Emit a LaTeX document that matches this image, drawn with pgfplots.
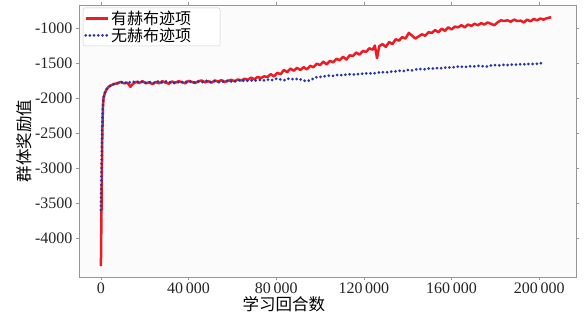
\documentclass[border=0pt]{standalone}
\usepackage{pgfplots}
\pgfplotsset{compat=1.18}
\usepackage{fontspec}
\setmainfont{Liberation Serif}
\newfontfamily\cjk{Noto Sans CJK SC}
\definecolor{myred}{RGB}{236,28,36}
\definecolor{myblue}{RGB}{40,52,160}
\definecolor{spine}{RGB}{150,150,150}
\begin{document}
\begin{tikzpicture}
\path[use as bounding box, fill=white] (-79pt,-43pt) rectangle (507pt,277pt);
\begin{axis}[
  scale only axis,
  width=497pt, height=272pt,
  at={(0pt,0pt)}, anchor=south west,
  xmin=-10000, xmax=216800,
  ymin=-4557, ymax=-671,
  scaled x ticks=false, scaled y ticks=false,
  axis background/.style={fill=black!1.5},
  axis line style={spine, line width=0.8pt},
  tick style={spine, line width=0.6pt},
  tick align=outside, major tick length=3pt,
  xtick={0,40000,80000,120000,160000,200000},
  xticklabels={0,40\,000,80\,000,120\,000,160\,000,200\,000},
  ytick={-4000,-3500,-3000,-2500,-2000,-1500,-1000},
  yticklabels={-4000,-3500,-3000,-2500,-2000,-1500,-1000},
  ticklabel style={font=\fontsize{16}{18}\selectfont, text=black!85},
  xticklabel style={yshift=1pt},
  xlabel={\cjk 学习回合数},
  ylabel={\cjk 群体奖励值},
  label style={font=\fontsize{16.5}{18}\selectfont},
  xlabel style={at={(axis description cs:0.412,0)}, anchor=north, yshift=-16pt},
  ylabel style={at={(axis description cs:0,0.5)}, anchor=south, xshift=0pt, yshift=44pt},
  legend style={at={(axis description cs:0.008,0.99)}, anchor=north west,
    draw=black!20, fill=white, rounded corners=2pt,
    font=\cjk\fontsize{16}{17}\selectfont, inner sep=1pt, row sep=-2pt},
  legend cell align=left,
  legend image code/.code={\draw[#1] (0pt,0pt) -- (22pt,0pt);},
]
\addplot[myred, line width=2.5pt, line join=round] coordinates {
(0,-4400) (300,-3500) (600,-2600) (900,-2150) (1200,-2000) (1800,-1930)
(2500,-1880) (3500,-1840) (4500,-1820) (6000,-1800) (7500,-1790) (9000,-1770)
(10500,-1790) (12000,-1780) (13500,-1840) (14500,-1800) (16000,-1770) (17500,-1785)
(19000,-1760) (20500,-1790) (22000,-1775) (23500,-1800) (25000,-1770) (26500,-1790)
(28000,-1760) (29500,-1780) (31000,-1795) (32500,-1765) (34000,-1780) (35500,-1760)
(37000,-1775) (38500,-1790) (40000,-1755) (41500,-1770) (43000,-1785) (44500,-1760)
(46000,-1750) (47500,-1775) (49000,-1760) (50500,-1780) (52000,-1750) (53500,-1765)
(55000,-1745) (56500,-1770) (58000,-1755) (59500,-1740) (61000,-1760) (62500,-1735)
(64000,-1750) (65500,-1725) (67000,-1740) (68500,-1710) (70000,-1730) (71500,-1700)
(73000,-1715) (74500,-1690) (76000,-1700) (77500,-1660) (79000,-1690) (80500,-1640)
(82000,-1660) (83500,-1600) (85000,-1630) (86500,-1580) (88000,-1610) (89500,-1570)
(91000,-1600) (92500,-1560) (94000,-1590) (95500,-1540) (97000,-1560) (98500,-1510)
(100000,-1530) (101500,-1480) (103000,-1520) (104500,-1470) (106000,-1490) (107500,-1440)
(109000,-1460) (110500,-1410) (112000,-1450) (113500,-1390) (115000,-1400) (116500,-1350)
(118000,-1380) (119500,-1330) (121000,-1340) (122500,-1290) (124000,-1310) (125000,-1250)
(126000,-1430) (127000,-1260) (128500,-1230) (130000,-1270) (131500,-1200) (133000,-1230)
(134500,-1160) (136000,-1180) (137500,-1130) (139000,-1150) (140500,-1070) (142000,-1110)
(143500,-1150) (145000,-1120) (146500,-1090) (148000,-1110) (149500,-1060) (151000,-1070)
(152500,-1030) (154000,-1060) (155500,-1010) (157000,-1040) (158500,-990) (160000,-1020)
(161500,-980) (163000,-990) (164500,-960) (166000,-990) (167500,-950) (169000,-970)
(170500,-940) (172000,-960) (173500,-930) (175000,-950) (176500,-920) (178000,-940)
(179500,-960) (181000,-920) (182500,-890) (184000,-900) (185500,-890) (187000,-910)
(188500,-880) (190000,-900) (191500,-895) (193000,-920) (194500,-880) (196000,-905)
(197500,-870) (199000,-890) (200500,-865) (202000,-880) (203500,-860) (205500,-845)
};
\addlegendentry{有赫布迹项\rule{26pt}{0pt}}
\addplot[myblue, line width=3pt, line cap=round, dash pattern=on 0pt off 4.2pt] coordinates {
(0,-3600) (300,-3000) (600,-2400) (900,-2100) (1300,-1980) (2000,-1910)
(3000,-1860) (4500,-1820) (6000,-1800) (8000,-1785) (10000,-1770) (12000,-1790)
(14000,-1765) (16000,-1775) (18000,-1760) (20000,-1785) (22000,-1770) (24000,-1790)
(26000,-1765) (28000,-1780) (30000,-1760) (32000,-1775) (34000,-1790) (36000,-1765)
(38000,-1775) (40000,-1760) (42000,-1780) (44000,-1765) (46000,-1775) (48000,-1755)
(50000,-1770) (52000,-1760) (54000,-1775) (56000,-1765) (58000,-1750) (60000,-1770)
(62000,-1755) (64000,-1745) (66000,-1760) (68000,-1745) (70000,-1755) (72000,-1740)
(74000,-1750) (76000,-1735) (78000,-1745) (80000,-1725) (82000,-1735) (84000,-1745)
(86000,-1720) (88000,-1735) (90000,-1725) (92000,-1745) (94000,-1760) (96000,-1740)
(98000,-1705) (100000,-1700) (102000,-1690) (104000,-1680) (106000,-1685) (108000,-1670)
(110000,-1675) (112000,-1665) (114000,-1660) (116000,-1665) (118000,-1655) (120000,-1650)
(122000,-1645) (124000,-1650) (126000,-1640) (128000,-1630) (130000,-1635) (132000,-1625)
(134000,-1620) (136000,-1610) (138000,-1615) (140000,-1600) (142000,-1605) (144000,-1590)
(146000,-1585) (148000,-1590) (150000,-1575) (152000,-1580) (154000,-1570) (156000,-1575)
(158000,-1560) (160000,-1565) (162000,-1555) (164000,-1550) (166000,-1560) (168000,-1545)
(170000,-1550) (172000,-1540) (174000,-1545) (176000,-1550) (178000,-1535) (180000,-1530)
(182000,-1535) (184000,-1525) (186000,-1530) (188000,-1520) (190000,-1525) (192000,-1515)
(194000,-1520) (196000,-1510) (198000,-1515) (200000,-1505) (202000,-1500)
};
\addlegendentry{无赫布迹项\rule{26pt}{0pt}}
\end{axis}
\end{tikzpicture}
\end{document}
